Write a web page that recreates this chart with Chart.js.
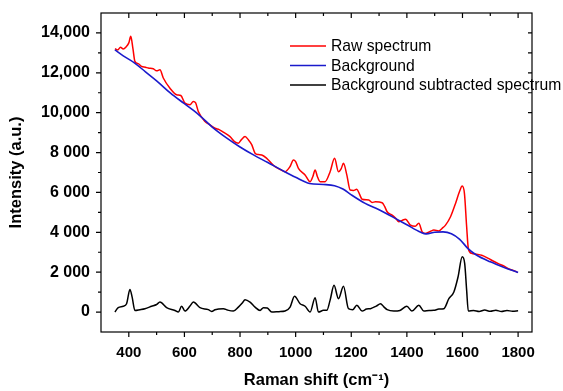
<!DOCTYPE html>
<html>
<head>
<meta charset="utf-8">
<script src="https://cdn.jsdelivr.net/npm/chart.js@4.4.1/dist/chart.umd.min.js"></script>
<style>
  html, body { margin: 0; padding: 0; background: #fff; }
  #wrap { position: relative; width: 563px; height: 391px; }
</style>
</head>
<body>
<div id="wrap"><canvas id="myChart"></canvas></div>
<script>
// Raw spectrum (red)
var rawX = [350, 360, 370, 380, 390, 400, 407, 415, 422, 435, 446, 460, 470, 488, 500, 512, 524, 548, 572, 587,
  602, 620, 632, 640, 650, 674, 692, 710, 725, 740, 764, 780, 794, 805, 818, 830, 842, 854, 866, 878,
  896, 908, 926, 945, 962, 980, 992, 1000, 1010, 1034, 1052, 1062, 1070, 1078, 1088, 1106, 1124, 1140, 1154, 1164,
  1172, 1184, 1196, 1208, 1220, 1230, 1239, 1263, 1275, 1287, 1311, 1320, 1329, 1347, 1360, 1371, 1383, 1395, 1413, 1430,
  1443, 1455, 1467, 1485, 1497, 1515, 1527, 1539, 1557, 1575, 1589, 1599, 1607, 1615, 1621, 1633, 1650, 1669, 1693, 1710,
  1729, 1750, 1765, 1780, 1797];
var rawY = [13210, 13150, 13280, 13200, 13300, 13500, 13830, 13200, 12570, 12450, 12320, 12280, 12240, 12200, 12100, 12150, 11740, 11230, 10900, 10860,
  10480, 10400, 10560, 10500, 10060, 9560, 9390, 9220, 9150, 9020, 8800, 8550, 8470, 8650, 8800, 8640, 8400, 7970, 7900, 7880,
  7710, 7540, 7290, 7150, 7040, 7300, 7630, 7550, 7210, 6880, 6540, 6800, 7130, 6800, 6540, 6540, 7040, 7710, 7040, 7200,
  7460, 6880, 6120, 6100, 6160, 5900, 5660, 5620, 5500, 5530, 5480, 5300, 5030, 4860, 4700, 4530, 4600, 4650, 4360, 4300,
  4450, 4020, 3940, 4050, 4110, 4070, 4200, 4360, 4780, 5450, 6030, 6320, 5950, 4280, 3190, 2940, 2900, 2850, 2690, 2560,
  2430, 2300, 2180, 2100, 2010];

// Background (blue)
var bgX = [350, 380, 420, 460, 500, 550, 600, 650, 700, 750, 800, 850, 900, 950, 1000, 1050, 1100, 1140, 1170, 1200,
  1250, 1300, 1350, 1400, 1450, 1470, 1500, 1530, 1560, 1590, 1620, 1650, 1700, 1750, 1800];
var bgY = [13150, 12850, 12500, 12050, 11600, 10980, 10450, 9920, 9280, 8750, 8280, 7870, 7500, 7120, 6760, 6450, 6400, 6340, 6170, 5880,
  5450, 5130, 4760, 4380, 4000, 3920, 4000, 4020, 3930, 3650, 3180, 2860, 2520, 2240, 1990];

// Background subtracted spectrum (black)
var subX = [350, 362, 380, 392, 404, 412, 422, 440, 458, 482, 500, 512, 536, 566, 578, 590, 602, 620, 632, 656,
  686, 698, 710, 740, 755, 776, 794, 808, 818, 836, 854, 872, 884, 898, 914, 940, 962, 980, 996, 1016,
  1034, 1052, 1070, 1082, 1100, 1112, 1124, 1138, 1154, 1172, 1190, 1205, 1220, 1239, 1255, 1269, 1290, 1305, 1318, 1329,
  1353, 1375, 1400, 1418, 1443, 1461, 1480, 1497, 1515, 1533, 1551, 1569, 1584, 1599, 1608, 1615, 1621, 1640, 1660, 1680,
  1700, 1720, 1740, 1760, 1780, 1800];
var subY = [0, 220, 290, 420, 1130, 750, 80, 120, 170, 290, 380, 500, 220, 80, 0, 290, 50, 300, 500, 220,
  120, 30, 120, 170, 100, 50, 250, 450, 620, 500, 250, 80, 220, 200, 0, 20, 50, 250, 790, 420,
  290, 0, 720, 0, 85, 85, 600, 1340, 670, 1290, 170, 120, 340, 50, 150, 170, 300, 420, 250, 120,
  50, 80, 290, 50, 340, 50, 80, 85, 150, 170, 670, 1010, 1760, 2770, 2430, 1090, 50, 80, 30, 100,
  40, 90, 30, 80, 40, 60];

// Graduations
var xTicks = [400, 600, 800, 1000, 1200, 1400, 1600, 1800];
var yTicks = [0, 2000, 4000, 6000, 8000, 10000, 12000, 14000];
var yTickLabels = ["0", "2 000", "4 000", "6 000", "8 000", "10,000", "12,000", "14,000"];

function toPoints(xs, ys) {
  return xs.map(function (x, i) { return { x: x, y: ys[i] }; });
}

var FONT = "'Liberation Sans', Arial, sans-serif";

// Cadre + graduations (majeures et mineures)
var framePlugin = {
  id: "frame",
  afterDraw: function (chart) {
    var ctx = chart.ctx, a = chart.chartArea;
    var sx = chart.scales.x, sy = chart.scales.y;
    ctx.save();
    ctx.strokeStyle = "#000";
    ctx.lineWidth = 1.2;
    ctx.strokeRect(a.left, a.top, a.right - a.left, a.bottom - a.top);
    ctx.beginPath();
    for (var v = xTicks[0] - 100; v <= xTicks[xTicks.length - 1] + 1; v += 100) {
      var px = sx.getPixelForValue(v);
      if (px <= a.left || px >= a.right) continue;
      var len = xTicks.indexOf(v) >= 0 ? 5 : 3;
      ctx.moveTo(px, a.bottom); ctx.lineTo(px, a.bottom + len);
      ctx.moveTo(px, a.top); ctx.lineTo(px, a.top + len);
    }
    for (var w = yTicks[0]; w <= yTicks[yTicks.length - 1]; w += 1000) {
      var py = sy.getPixelForValue(w);
      var l2 = yTicks.indexOf(w) >= 0 ? 5 : 3;
      ctx.moveTo(a.left, py); ctx.lineTo(a.left - l2, py);
      ctx.moveTo(a.right, py); ctx.lineTo(a.right - 4, py);
    }
    ctx.stroke();
    ctx.restore();
  }
};

// Légende dans la zone du graphique
var legendPlugin = {
  id: "insideLegend",
  afterDraw: function (chart) {
    var ctx = chart.ctx;
    var x0 = 290, y0 = 46, row = 19.5;
    ctx.save();
    ctx.font = "15.7px " + FONT;
    ctx.textBaseline = "middle";
    ctx.fillStyle = "#000";
    chart.data.datasets.forEach(function (ds, i) {
      var y = y0 + i * row;
      ctx.strokeStyle = ds.borderColor;
      ctx.lineWidth = 1.5;
      ctx.beginPath();
      ctx.moveTo(x0, y); ctx.lineTo(x0 + 36, y);
      ctx.stroke();
      ctx.fillText(ds.label, x0 + 41, y + 1);
    });
    ctx.restore();
  }
};

var ctx = document.getElementById("myChart").getContext("2d");
var myChart = new Chart(ctx, {
  type: "line",
  data: {
    datasets: [
      {
        label: "Raw spectrum",
        data: toPoints(rawX, rawY),
        borderColor: "#ff0000",
        borderWidth: 1.5,
        pointRadius: 0,
        cubicInterpolationMode: "monotone",
        order: 3,
      },
      {
        label: "Background",
        data: toPoints(bgX, bgY),
        borderColor: "#1a1acc",
        borderWidth: 1.6,
        pointRadius: 0,
        cubicInterpolationMode: "monotone",
        order: 2,
      },
      {
        label: "Background subtracted spectrum",
        data: toPoints(subX, subY),
        borderColor: "#000000",
        borderWidth: 1.5,
        pointRadius: 0,
        cubicInterpolationMode: "monotone",
        order: 1,
      },
    ],
  },
  options: {
    responsive: true,
    maintainAspectRatio: false,
    animation: false,
    layout: { padding: { top: 13, right: 31, left: 0, bottom: 0 } },
    plugins: {
      legend: { display: false },
      tooltip: { enabled: false },
    },
    scales: {
      x: {
        type: "linear",
        min: 300,
        max: 1850,
        grid: { display: false, drawTicks: false },
        border: { display: false },
        afterBuildTicks: function (s) {
          s.ticks = xTicks.map(function (v) { return { value: v }; });
        },
        afterFit: function (s) {
          s.height = 59;
          s.paddingLeft = 0;
          s.paddingRight = 0;
        },
        ticks: {
          padding: 12,
          color: "#000",
          maxRotation: 0,
          autoSkip: false,
          font: { family: FONT, size: 15, weight: "bold" },
          callback: function (value) { return String(value); },
        },
        title: {
          display: true,
          text: "Raman shift (cm\u207B\u00B9)",
          color: "#000",
          font: { family: FONT, size: 16.5, weight: "bold" },
          padding: { top: 0, bottom: 1 },
        },
      },
      y: {
        min: -1000,
        max: 15000,
        grid: { display: false, drawTicks: false },
        border: { display: false },
        afterBuildTicks: function (s) {
          s.ticks = yTicks.map(function (v) { return { value: v }; });
        },
        afterFit: function (s) {
          s.width = 101;
          s.paddingTop = 0;
          s.paddingBottom = 0;
        },
        ticks: {
          padding: 11,
          color: "#000",
          autoSkip: false,
          font: { family: FONT, size: 16, weight: "bold" },
          callback: function (value) {
            var i = yTicks.indexOf(value);
            return i >= 0 ? yTickLabels[i] : "";
          },
        },
        title: {
          display: true,
          text: "Intensity (a.u.)",
          color: "#000",
          font: { family: FONT, size: 16.5, weight: "bold" },
          padding: { top: 7, bottom: 0 },
        },
      },
    },
  },
  plugins: [framePlugin, legendPlugin],
});
</script>
</body>
</html>
